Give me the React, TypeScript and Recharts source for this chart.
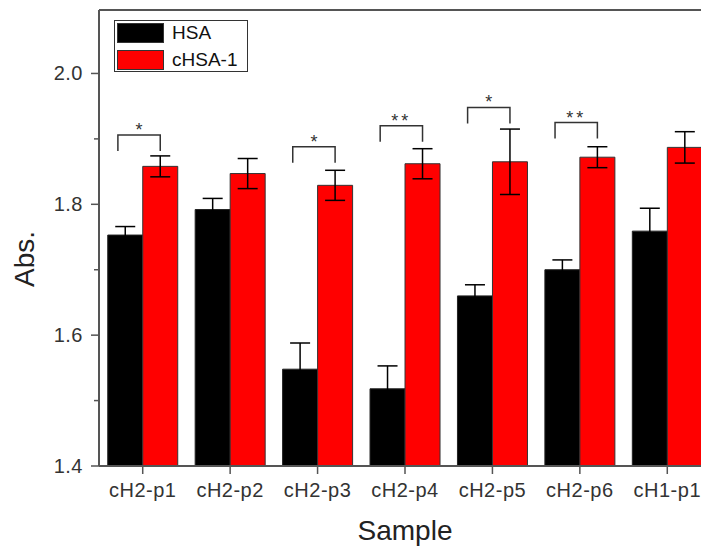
import { Bar, BarChart, ErrorBar, LabelList, Legend, ReferenceLine, XAxis, YAxis } from 'recharts'

const categories = ['cH2-p1', 'cH2-p2', 'cH2-p3', 'cH2-p4', 'cH2-p5', 'cH2-p6', 'cH1-p1']
const hsa = [1.753, 1.792, 1.548, 1.518, 1.66, 1.7, 1.759]
const hsaErr = [0.013, 0.017, 0.04, 0.035, 0.017, 0.015, 0.035]
const chsa = [1.858, 1.847, 1.829, 1.862, 1.865, 1.872, 1.887]
const chsaErr = [0.016, 0.023, 0.023, 0.023, 0.05, 0.016, 0.024]
// significance bracket height (in Abs.) and its marker
const sigLevel = [1.906, null, 1.888, 1.92, 1.948, 1.925, null]
const sigMark = ['*', '', '*', '**', '*', '**', '']
const yTicks = [1.4, 1.5, 1.6, 1.7, 1.8, 1.9, 2.0]
const yMin = 1.4
const yMax = 2.097

const data = categories.map((name, i) => ({
  name,
  hsa: hsa[i],
  hsaErr: hsaErr[i],
  chsa: chsa[i],
  chsaErr: chsaErr[i],
}))

const font = '"Liberation Sans", Arial, sans-serif'
const axisColor = '#555'
const textColor = '#333'

function YTick(props: any) {
  const { x, y, payload } = props
  const v = payload.value as number
  const major = Math.round(v * 10) % 2 === 0
  return (
    <g>
      <line x1={x - (major ? 8 : 5)} x2={x} y1={y} y2={y} stroke={axisColor} strokeWidth={1.5} />
      {major && (
        <text x={x - 16} y={y} textAnchor="end" dominantBaseline="central" fontSize={20} letterSpacing={0.5} fill={textColor} fontFamily={font}>
          {v.toFixed(1)}
        </text>
      )}
    </g>
  )
}

function XTick(props: any) {
  const { x, y, payload } = props
  return (
    <g>
      <line x1={x} x2={x} y1={y} y2={y + 8} stroke={axisColor} strokeWidth={1.5} />
      <text x={x} y={y + 24} textAnchor="middle" dominantBaseline="central" fontSize={20} letterSpacing={0.5} fill={textColor} fontFamily={font}>
        {payload.value}
      </text>
    </g>
  )
}

function Bracket(props: any) {
  const vb = props.viewBox ?? props
  const i = props.index as number
  const level = sigLevel[i]
  if (level == null) return null
  const { x, y, width, height } = vb
  // pixels per unit from the bar itself (bars start at yMin)
  const k = height / (chsa[i] - yMin)
  const top = y + height - (level - yMin) * k
  const left = x - 0.71 * width
  const right = x + width / 2
  return (
    <g>
      <path d={`M${left},${top + 16} V${top} H${right} V${top + 16}`} fill="none" stroke="#333" strokeWidth={1.5} />
      <text x={(left + right) / 2} y={top + 1} textAnchor="middle" fontSize={18} letterSpacing={sigMark[i].length > 1 ? 3 : 0} fill="#333" fontFamily={font}>
        {sigMark[i]}
      </text>
    </g>
  )
}

function LegendBox() {
  const row = (color: string, label: string, top: number) => (
    <div style={{ position: 'absolute', left: 2, top, display: 'flex', alignItems: 'center' }}>
      <div style={{ width: 45, height: 18, background: color, border: '1px solid #333' }} />
      <span style={{ marginLeft: 8, fontSize: 19, color: '#111', fontFamily: font, lineHeight: '20px' }}>{label}</span>
    </div>
  )
  return (
    <div style={{ position: 'relative', width: 132, height: 50, border: '1.5px solid #333', background: '#fff' }}>
      {row('#000', 'HSA', 2)}
      {row('#ff0000', 'cHSA-1', 29)}
    </div>
  )
}

export default function App() {
  return (
    <div style={{ position: 'fixed', left: 0, top: 0, width: 701, height: 548, overflow: 'hidden', background: '#fff' }}>
      <BarChart
        width={720}
        height={548}
        data={data}
        margin={{ top: 10, right: 9, left: 0, bottom: 0 }}
        barCategoryGap="10%"
        barGap={0}
      >
        <XAxis
          dataKey="name"
          height={82}
          axisLine={{ stroke: axisColor, strokeWidth: 2 }}
          tickLine={false}
          tickSize={0}
          tickMargin={0}
          tick={<XTick />}
          interval={0}
          label={{ value: 'Sample', position: 'insideBottom', offset: 8, fontSize: 28, fill: '#222', fontFamily: font }}
        />
        <YAxis
          width={99}
          domain={[yMin, yMax]}
          ticks={yTicks}
          allowDataOverflow
          axisLine={{ stroke: axisColor, strokeWidth: 2 }}
          tickLine={false}
          tickSize={0}
          tickMargin={0}
          tick={<YTick />}
          label={{
            content: (p: any) => {
              const vb = p.viewBox
              const cx = vb.x + 24
              const cy = vb.y + vb.height / 2 + 21
              return (
                <text x={cx} y={cy} transform={`rotate(-90, ${cx}, ${cy})`} textAnchor="middle" dominantBaseline="central" fontSize={28} fill="#222" fontFamily={font}>
                  Abs.
                </text>
              )
            },
          }}
        />
        <ReferenceLine y={yMax} stroke={axisColor} strokeWidth={2} />
        <Legend
          layout="horizontal"
          verticalAlign="middle"
          content={<LegendBox />}
          wrapperStyle={{ position: 'absolute', top: 20, left: 114, width: 140 }}
        />
        <Bar dataKey="hsa" name="HSA" fill="#000" stroke="#222" strokeWidth={1} isAnimationActive={false}>
          <ErrorBar dataKey="hsaErr" width={10} stroke="#000" strokeWidth={1.5} />
        </Bar>
        <Bar dataKey="chsa" name="cHSA-1" fill="#ff0000" stroke="#333" strokeWidth={1} isAnimationActive={false}>
          <ErrorBar dataKey="chsaErr" width={10} stroke="#000" strokeWidth={1.5} />
          <LabelList dataKey="chsa" content={<Bracket />} />
        </Bar>
      </BarChart>
    </div>
  )
}
